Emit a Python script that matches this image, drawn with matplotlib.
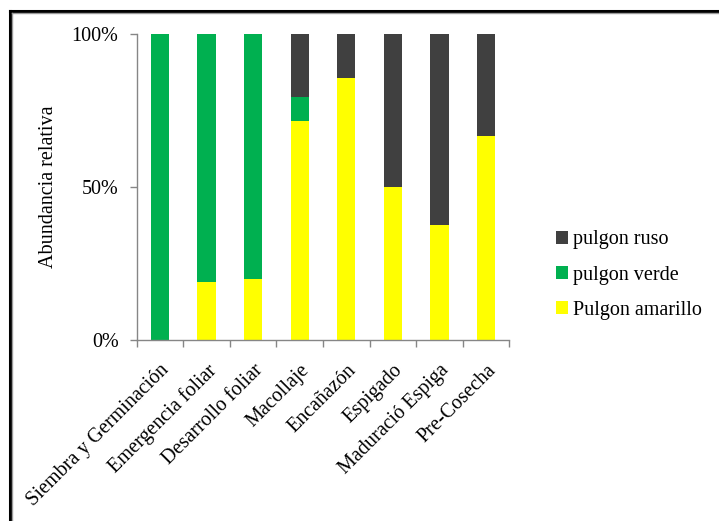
import matplotlib.pyplot as plt
from matplotlib.lines import Line2D
import numpy as np

# Abundancia relativa (%) de pulgones por etapa fenológica
etapas = ['Siembra y Germinación', 'Emergencia foliar', 'Desarrollo foliar',
          'Macollaje', 'Encañazón', 'Espigado', 'Maduració Espiga', 'Pre-Cosecha']
amarillo = [0, 19, 20, 71.5, 85.7, 50, 37.5, 66.7]
verde = [100, 81, 80, 8, 0, 0, 0, 0]
ruso = [0, 0, 0, 20.5, 14.3, 50, 62.5, 33.3]

plt.rcParams['font.family'] = ['Liberation Serif', 'DejaVu Serif']
fs = 14.5
gris_eje = '#868686'

fig = plt.figure(figsize=(7.19, 5.21), dpi=100)
ax = fig.add_axes([0.190, 0.3474, 0.5186, 0.5873])

x = np.arange(len(etapas))
w = 0.39
amarillo = np.array(amarillo)
verde = np.array(verde)
ruso = np.array(ruso)
b1 = ax.bar(x, amarillo, w, color='#FFFF00', label='Pulgon amarillo')
b2 = ax.bar(x, verde, w, bottom=amarillo, color='#00B050', label='pulgon verde')
b3 = ax.bar(x, ruso, w, bottom=amarillo + verde, color='#404040', label='pulgon ruso')

ax.set_xlim(-0.5, len(etapas) - 0.5)
ax.set_ylim(0, 100)
ax.set_yticks([0, 50, 100])
ax.set_yticklabels(['0%', '50%', '100%'], fontsize=fs)
ax.set_ylabel('Abundancia relativa', fontsize=fs, labelpad=10)

# marcas del eje x en los límites de cada categoría
ax.set_xticks(np.arange(len(etapas) + 1) - 0.5)
ax.set_xticklabels([])
ax.set_xticks(x, minor=True)
ax.set_xticklabels(etapas, minor=True, rotation=45, ha='right', va='top',
                   rotation_mode='anchor', fontsize=fs)
ax.tick_params(axis='x', which='minor', length=0, pad=15)
ax.tick_params(axis='x', which='major', direction='out', length=5,
               color=gris_eje, width=1)
ax.tick_params(axis='y', which='major', direction='out', length=5,
               color=gris_eje, width=1, pad=8)

for s in ['top', 'right']:
    ax.spines[s].set_visible(False)
for s in ['left', 'bottom']:
    ax.spines[s].set_color(gris_eje)
    ax.spines[s].set_linewidth(1)

ax.legend([b3, b2, b1], ['pulgon ruso', 'pulgon verde', 'Pulgon amarillo'],
          loc='center left', bbox_to_anchor=(0.762, 0.472),
          bbox_transform=fig.transFigure, frameon=False, fontsize=fs,
          handlelength=0.6, handleheight=0.6, handletextpad=0.25,
          labelspacing=0.8, borderaxespad=0)

# borde del marco del gráfico (superior e izquierdo)
fig.add_artist(Line2D([9.5 / 719, 1], [1 - 11 / 521, 1 - 11 / 521],
                      transform=fig.transFigure, color='black', lw=2.2))
fig.add_artist(Line2D([10 / 719, 10 / 719], [0, 1 - 11 / 521],
                      transform=fig.transFigure, color='black', lw=2.2))
fig.add_artist(Line2D([11.5 / 719, 1], [1 - 13 / 521, 1 - 13 / 521],
                      transform=fig.transFigure, color='#9a9a9a', lw=1))
fig.add_artist(Line2D([12 / 719, 12 / 719], [0, 1 - 13 / 521],
                      transform=fig.transFigure, color='#9a9a9a', lw=1))

fig.savefig('out.png', dpi=100)
